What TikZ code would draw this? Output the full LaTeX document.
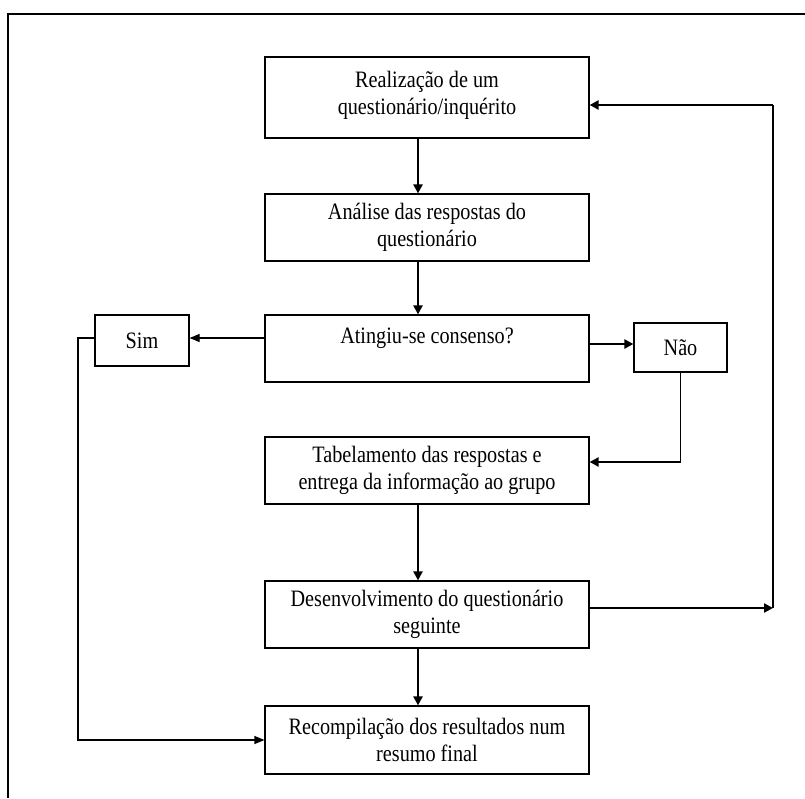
\documentclass[tikz,border=0pt]{standalone}
\usepackage{fontspec}
\setmainfont[FakeStretch=0.86]{Liberation Serif}
\usetikzlibrary{arrows.meta}
\tikzset{
  box/.style={draw=black, line width=1.2pt, rectangle, align=center, inner sep=0pt,
    font=\fontsize{23.5}{27}\selectfont},
  mainbox/.style={box, minimum width=324pt, minimum height=67pt},
  smallbox/.style={box, minimum width=93pt, minimum height=50pt},
  thick arrow/.style={line width=2.8pt, -{Triangle[length=9pt,width=9pt]}},
  thin arrow/.style={line width=1.2pt, -{Triangle[length=10pt,width=8pt]}},
  thin line/.style={line width=1.2pt},
  frame/.style={line width=1.3pt}
}
\begin{document}
\begin{tikzpicture}[x=1pt,y=-1pt]
\useasboundingbox (0,0) rectangle (805,798);
\fill[white] (0,0) rectangle (805,798);
% frame (open to right and bottom)
\draw[frame] (805,14) -- (8,14) -- (8,798);

\node[mainbox, minimum height=81pt] (b1) at (427,97.5) {Realização de um\\questionário/inquérito\\[-17pt]\mbox{}};
\node[mainbox] (b2) at (427,227.5) {Análise das respostas do\\questionário};
\node[mainbox] (b3) at (427,348.5) {Atingiu-se consenso?\\[-2pt]\mbox{}};
\node[smallbox, minimum width=94pt, minimum height=51pt] (sim) at (142,340.5) {Sim};
\node[smallbox, minimum height=49pt] (nao) at (680.5,347.5) {Não};
\node[mainbox] (b4) at (427,470.5) {Tabelamento das respostas e\\entrega da informação ao grupo};
\node[mainbox] (b5) at (427,614.5) {Desenvolvimento do questionário\\seguinte};
\node[mainbox, minimum height=68pt] (b6) at (427,740) {Recompilação dos resultados num\\resumo final};

\coordinate (r) at (773,608);

% vertical flow
\draw[thick arrow] ([xshift=-9pt]b1.south) -- ([xshift=-9pt]b2.north);
\draw[thick arrow] ([xshift=-9pt]b2.south) -- ([xshift=-9pt]b3.north);
\draw[thick arrow] ([xshift=-9pt]b4.south) -- ([xshift=-9pt]b5.north);
\draw[thick arrow] ([xshift=-9pt]b5.south) -- ([xshift=-9pt]b6.north);

% Sim branch
\draw[thin arrow] (b3.west |- 0,338) -- (sim.east |- 0,338);
\draw[thin arrow] (sim.west |- 0,338) -- (78,338) |- (b6.west);

% Nao branch
\draw[thick arrow] (b3.east |- 0,344) -- (nao.west |- 0,344);
\draw[thin line] (nao.south) -- (nao.south |- 0,462);
\draw[thick arrow] (nao.south |- 0,462) -- (b4.east |- 0,462);

% loop back
\draw[thick arrow] (b5.east |- r) -- (r);
\draw[thin line] (r) -- (r |- 0,105);
\draw[thick arrow] (r |- 0,105) -- (b1.east |- 0,105);
\end{tikzpicture}
\end{document}
